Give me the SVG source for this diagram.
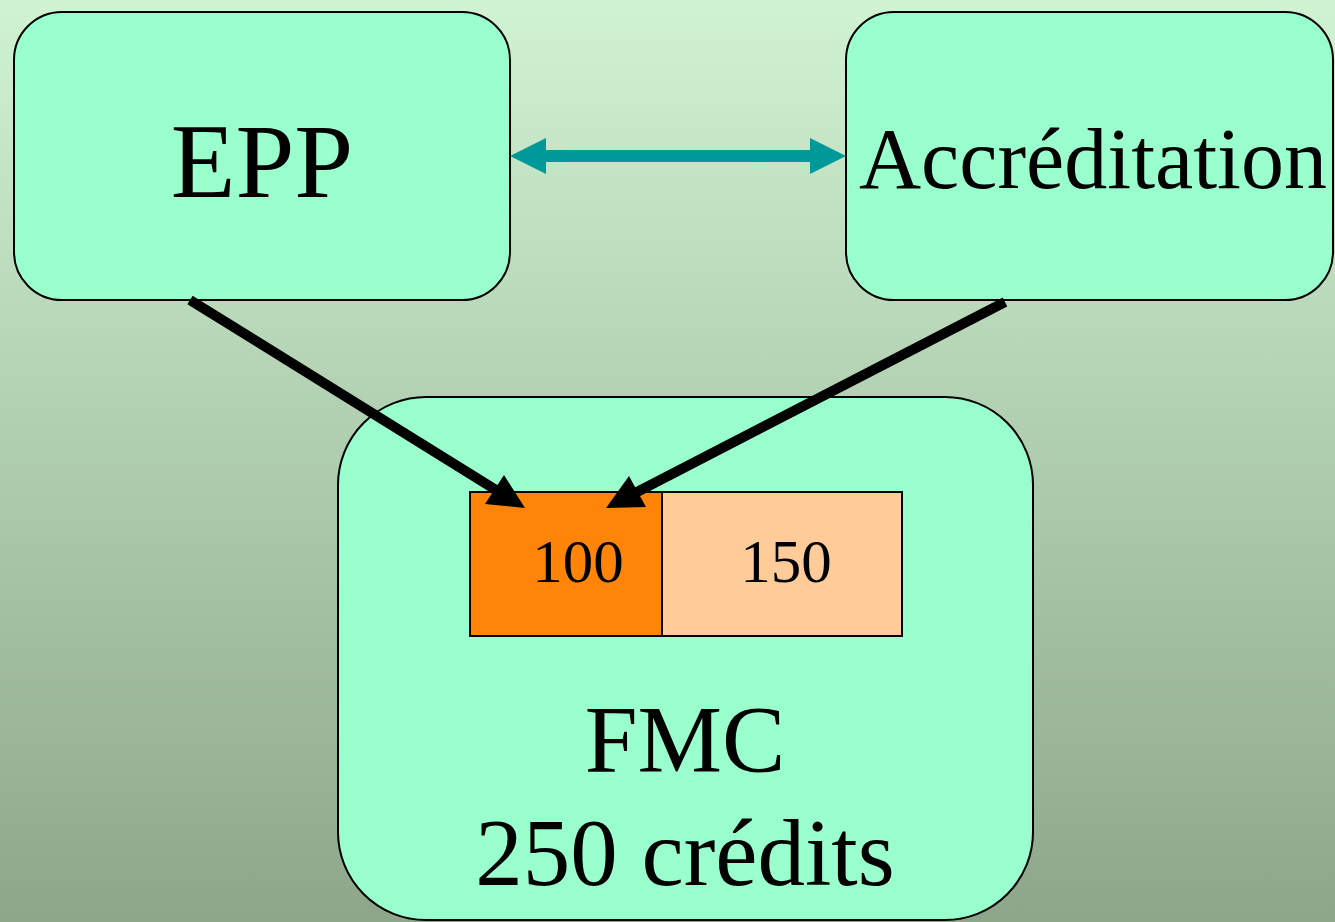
<svg xmlns="http://www.w3.org/2000/svg" width="1335" height="922" viewBox="0 0 1335 922">
<defs>
<linearGradient id="bg" x1="0" y1="0" x2="0" y2="1">
<stop offset="0" stop-color="#d0f3d2"/>
<stop offset="1" stop-color="#8da68a"/>
</linearGradient>
</defs>
<style>
.box{fill:#99ffcc;stroke:#000;stroke-width:2}
.t{font-family:"Liberation Serif","Times New Roman",serif;fill:#000;text-anchor:middle}
.arr{stroke:#000;stroke-width:10}
.head{fill:#000}
</style>
<rect width="1335" height="922" fill="url(#bg)"/>
<g id="fmc">
<rect class="box" x="338" y="397" width="695" height="523" rx="88"/>
<text class="t" x="685" y="772" font-size="95">FMC</text>
<text class="t" x="685" y="885" font-size="95">250 crédits</text>
</g>
<g id="c100">
<rect x="470" y="492" width="192" height="144" fill="#ff8408" stroke="#000" stroke-width="2"/>
<text class="t" x="578" y="582" font-size="61">100</text>
</g>
<g id="c150">
<rect x="662" y="492" width="240" height="144" fill="#ffcc99" stroke="#000" stroke-width="2"/>
<text class="t" x="786" y="582" font-size="61">150</text>
</g>
<g id="epp">
<rect class="box" x="14" y="12" width="496" height="288" rx="48"/>
<text class="t" x="262" y="197" font-size="106">EPP</text>
</g>
<g id="accreditation">
<rect class="box" x="846" y="12" width="487" height="288" rx="48"/>
<text class="t" x="1093" y="188" font-size="86">Accréditation</text>
</g>
<g id="connectors">
<polygon points="510,156 546,138 546,150 810,150 810,138 846,156 810,174 810,162 546,162 546,174" fill="#009999"/>
<line class="arr" x1="190" y1="300" x2="496" y2="490"/>
<polygon class="head" points="525,508 485,504 504,475"/>
<line class="arr" x1="1005" y1="302" x2="637" y2="492"/>
<polygon class="head" points="606,508 629,476 646,507"/>
</g>
</svg>
